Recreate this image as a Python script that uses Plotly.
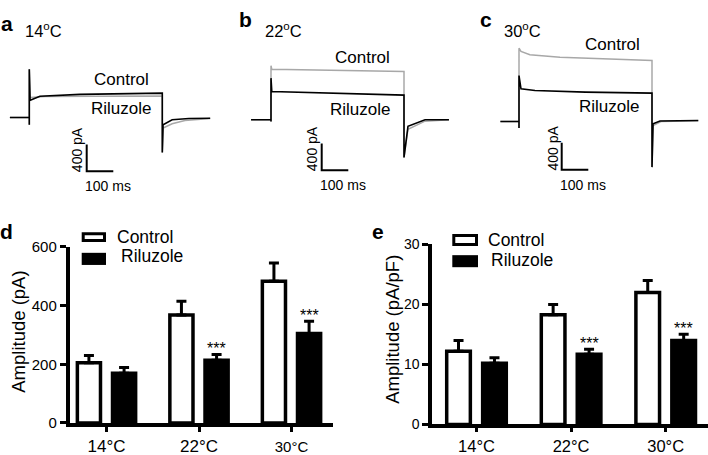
import plotly.graph_objects as go

W, H = 708, 455          # reference picture size (all pixel positions below refer to it)
FIG_H = 462              # rendered figure height (the page photo is squeezed to 455)
FONT = "Liberation Sans, Arial, Helvetica, sans-serif"

# ---------------- data ----------------
temps = ["14°C", "22°C", "30°C"]
panel_labels = ["a", "b", "c"]
panel_temps = ["14<sup>o</sup>C", "22<sup>o</sup>C", "30<sup>o</sup>C"]

# example current traces: time (ms from step onset), current (pA, baseline = 0)
a_ctrl_t = [-73, 0, 0, 0, 3, 60, 250, 500, 500, 503, 537, 585, 680]
a_ctrl_i = [0, 0, -106, 717, 300, 312, 318, 320, -519, -156, -92, -44, -15]
a_rilu_t = [-73, 0, 0, 0, 3, 40, 190, 500, 500, 503, 537, 600, 680]
a_rilu_i = [0, 0, -106, 717, 258, 316, 345, 364, -519, -106, -33, -15, -10]

b_ctrl_t = [-75, 0, 0, 0, 3, 250, 500, 500, 515, 579, 669]
b_ctrl_i = [0, 0, -25, 805, 751, 732, 717, -559, -140, -20, 0]
b_rilu_t = [-75, 0, 0, 0, 3, 250, 500, 500, 515, 579, 669]
b_rilu_i = [0, 0, -25, 620, 422, 390, 367, -559, -97, 0, 0]

c_ctrl_t = [-70, 0, 0, 0, 7.5, 41, 154, 300, 500, 500, 504, 534, 674]
c_ctrl_i = [0, 0, -97, 1091, 1043, 994, 956, 931, 906, -679, -60, 0, 10]
c_rilu_t = [-70, 0, 0, 0, 7.5, 60, 250, 500, 500, 504, 530, 674]
c_rilu_i = [0, 0, -97, 684, 485, 461, 437, 422, -679, -33, 7, 15]

scale_pA = 400
scale_ms = 100

# bar graphs: mean and SEM
d_ctrl = [205, 368, 483]
d_ctrl_sem = [25, 47, 62]
d_rilu = [169, 214, 305]
d_rilu_sem = [20, 19.5, 42]

e_ctrl = [12.2, 18.3, 22.0]
e_ctrl_sem = [1.8, 1.7, 2.0]
e_rilu = [10.2, 11.7, 14.0]
e_rilu_sem = [0.9, 0.85, 1.05]

sig = ["", "***", "***"]


def px(x):
    return x / W


def py(y):
    return 1 - y / H


PX_PER_MS = 0.266
PA_PER_PX = 14.55
GRAY = "#a8a8a8"

fig = go.Figure()
layout = dict(
    width=W, height=FIG_H, autosize=False,
    margin=dict(l=0, r=0, t=0, b=0),
    paper_bgcolor="white", plot_bgcolor="white",
    showlegend=False,
    font=dict(family=FONT, color="black"),
)
annotations = []
shapes = []

trace_panels = [
    dict(x0=0, x1=236, step=29.3, base=111.0, barx=86.7, barb=166.0,
         ctrl=(a_ctrl_t, a_ctrl_i), rilu=(a_rilu_t, a_rilu_i),
         ctrl_lab=(121.7, 71.7), rilu_lab=(121.0, 101.7),
         letter=(-1, 14.5), temp=(23, 21)),
    dict(x0=236, x1=472, step=271.0, base=113.3, barx=321.7, barb=165.0,
         ctrl=(b_ctrl_t, b_ctrl_i), rilu=(b_rilu_t, b_rilu_i),
         ctrl_lab=(362.0, 49.3), rilu_lab=(360.0, 102.7),
         letter=(237, 10.3), temp=(263, 21.5)),
    dict(x0=472, x1=708, step=519.0, base=115.0, barx=561.7, barb=164.3,
         ctrl=(c_ctrl_t, c_ctrl_i), rilu=(c_rilu_t, c_rilu_i),
         ctrl_lab=(612.0, 36.7), rilu_lab=(608.7, 99.3),
         letter=(478, 10.3), temp=(502, 21.5)),
]
TOP_H = 200
for k, p in enumerate(trace_panels):
    n = k + 1
    xa = "x" if n == 1 else f"x{n}"
    ya = "y" if n == 1 else f"y{n}"
    xkey = "xaxis" if n == 1 else f"xaxis{n}"
    ykey = "yaxis" if n == 1 else f"yaxis{n}"
    layout[xkey] = dict(domain=[px(p["x0"]), px(p["x1"])],
                        range=[(p["x0"] - p["step"]) / PX_PER_MS, (p["x1"] - p["step"]) / PX_PER_MS],
                        visible=False, anchor=ya)
    layout[ykey] = dict(domain=[py(TOP_H), 1],
                        range=[-(TOP_H - p["base"]) * PA_PER_PX, p["base"] * PA_PER_PX],
                        visible=False, anchor=xa)
    fig.add_trace(go.Scatter(x=p["ctrl"][0], y=p["ctrl"][1], mode="lines",
                             line=dict(color=GRAY, width=1.5), xaxis=xa, yaxis=ya,
                             hoverinfo="skip"))
    fig.add_trace(go.Scatter(x=p["rilu"][0], y=p["rilu"][1], mode="lines",
                             line=dict(color="black", width=1.6), xaxis=xa, yaxis=ya,
                             hoverinfo="skip"))
    t0 = (p["barx"] - p["step"]) / PX_PER_MS
    i0 = -(p["barb"] - p["base"]) * PA_PER_PX
    fig.add_trace(go.Scatter(x=[t0, t0, t0 + scale_ms], y=[i0 + scale_pA, i0, i0], mode="lines",
                             line=dict(color="black", width=2), xaxis=xa, yaxis=ya,
                             hoverinfo="skip"))
    annotations.append(dict(x=t0, y=i0 + scale_pA, xref=xa, yref=ya, text=f"{scale_pA} pA",
                            textangle=-90, showarrow=False, xanchor="center", yanchor="middle",
                            xshift=-9, yshift=-5, font=dict(size=14)))
    annotations.append(dict(x=t0, y=i0, xref=xa, yref=ya, text=f"{scale_ms} ms",
                            showarrow=False, xanchor="left", yanchor="top",
                            xshift=-4, yshift=-5, font=dict(size=14)))
    annotations.append(dict(x=px(p["ctrl_lab"][0]), y=py(p["ctrl_lab"][1]), xref="paper", yref="paper",
                            text="Control", showarrow=False, xanchor="center", yanchor="middle",
                            font=dict(size=17)))
    annotations.append(dict(x=px(p["rilu_lab"][0]), y=py(p["rilu_lab"][1]), xref="paper", yref="paper",
                            text="Riluzole", showarrow=False, xanchor="center", yanchor="middle",
                            font=dict(size=17)))
    annotations.append(dict(x=px(p["letter"][0]), y=py(p["letter"][1]), xref="paper", yref="paper",
                            text=f"<b>{panel_labels[k]}</b>", showarrow=False, xanchor="left",
                            yanchor="middle", font=dict(size=21)))
    annotations.append(dict(x=px(p["temp"][0]), y=py(p["temp"][1]), xref="paper", yref="paper",
                            text=panel_temps[k], showarrow=False, xanchor="left",
                            yanchor="middle", font=dict(size=16.5)))

BAR_W = 0.25
OFF_C = -0.315
OFF_R = 0.065
bar_panels = [
    dict(n=4, x0=69.5, x1=333.0, c0=106.5, sp=92.5, ytop=243.3, ybot=423.2,
         yr=[0, 600], ytv=[0, 200, 400, 600], ytfs=15, xtfs=17, xtl=5,
         ctrl=(d_ctrl, d_ctrl_sem), rilu=(d_rilu, d_rilu_sem),
         ticktext=["14°C", "22°C", "<span style='font-size:15px'>30°C</span>"],
         title="Amplitude (pA)", title_pos=(19, 330),
         leg=dict(c=(81.7, 106, 228.3, 238.3), r=(81.7, 106, 249.3, 261.7),
                  ct=(115, 233.3), rt=(119, 253)),
         letter="d", letter_pos=(-2, 228)),
    dict(n=5, x0=432.2, x1=708.0, c0=476.5, sp=94.6, ytop=240.7, ybot=424.8,
         yr=[0, 30], ytv=[0, 10, 20, 30], ytfs=14, xtfs=16.5, xtl=4,
         ctrl=(e_ctrl, e_ctrl_sem), rilu=(e_rilu, e_rilu_sem),
         ticktext=temps,
         title="Amplitude (pA/pF)", title_pos=(393, 328),
         leg=dict(c=(452.3, 478, 230, 242.3), r=(452.3, 478, 251.7, 264),
                  ct=(486, 236), rt=(489, 257)),
         letter="e", letter_pos=(370, 228)),
]
for bp in bar_panels:
    n = bp["n"]
    xa, ya = f"x{n}", f"y{n}"
    layout[f"xaxis{n}"] = dict(
        domain=[px(bp["x0"]), px(bp["x1"])],
        range=[(bp["x0"] - bp["c0"]) / bp["sp"], (bp["x1"] - bp["c0"]) / bp["sp"]],
        type="category", anchor=ya,
        showline=True, linecolor="black", linewidth=3.5,
        ticks="outside", ticklen=bp["xtl"], tickwidth=3, tickcolor="black",
        tickvals=temps, ticktext=bp["ticktext"],
        tickfont=dict(size=bp["xtfs"], color="black"),
        showgrid=False, zeroline=False, fixedrange=True,
    )
    layout[f"yaxis{n}"] = dict(
        domain=[py(bp["ybot"]), py(bp["ytop"])],
        range=bp["yr"], anchor=xa,
        showline=True, linecolor="black", linewidth=3.5,
        ticks="outside", ticklen=6, tickwidth=3, tickcolor="black",
        tickvals=bp["ytv"], tickfont=dict(size=bp["ytfs"], color="black"),
        showgrid=False, zeroline=False, fixedrange=True,
    )
    fig.add_trace(go.Bar(
        x=temps, y=bp["ctrl"][0], offset=OFF_C, width=BAR_W,
        marker=dict(color="white", line=dict(color="black", width=3.5)),
        error_y=dict(type="data", symmetric=False, array=bp["ctrl"][1], arrayminus=[0, 0, 0],
                     color="black", thickness=3, width=5),
        xaxis=xa, yaxis=ya, hoverinfo="skip"))
    fig.add_trace(go.Bar(
        x=temps, y=bp["rilu"][0], offset=OFF_R, width=BAR_W,
        marker=dict(color="black", line=dict(color="black", width=3.5)),
        error_y=dict(type="data", symmetric=False, array=bp["rilu"][1], arrayminus=[0, 0, 0],
                     color="black", thickness=3, width=5),
        xaxis=xa, yaxis=ya, hoverinfo="skip"))
    for j, s in enumerate(sig):
        if s:
            annotations.append(dict(
                x=j + OFF_R + BAR_W / 2, y=bp["rilu"][0][j] + bp["rilu"][1][j],
                xref=xa, yref=ya, text=s, showarrow=False,
                xanchor="center", yanchor="bottom", yshift=-5, font=dict(size=16)))
    annotations.append(dict(x=px(bp["title_pos"][0]), y=py(bp["title_pos"][1]), xref="paper",
                            yref="paper", text=bp["title"], textangle=-90, showarrow=False,
                            xanchor="center", yanchor="middle", font=dict(size=18.5)))
    cx0, cx1, cy0, cy1 = bp["leg"]["c"]
    shapes.append(dict(type="rect", xref="paper", yref="paper",
                       x0=px(cx0 + 1.5), x1=px(cx1 - 1.5), y0=py(cy1 - 1.5), y1=py(cy0 + 1.5),
                       line=dict(color="black", width=3), fillcolor="white"))
    rx0, rx1, ry0, ry1 = bp["leg"]["r"]
    shapes.append(dict(type="rect", xref="paper", yref="paper",
                       x0=px(rx0), x1=px(rx1), y0=py(ry1), y1=py(ry0),
                       line=dict(width=0), fillcolor="black"))
    annotations.append(dict(x=px(bp["leg"]["ct"][0]), y=py(bp["leg"]["ct"][1]), xref="paper",
                            yref="paper", text="Control", showarrow=False, xanchor="left",
                            yanchor="middle", font=dict(size=17.5)))
    annotations.append(dict(x=px(bp["leg"]["rt"][0]), y=py(bp["leg"]["rt"][1]), xref="paper",
                            yref="paper", text="Riluzole", showarrow=False, xanchor="left",
                            yanchor="middle", font=dict(size=17.5)))
    annotations.append(dict(x=px(bp["letter_pos"][0]), y=py(bp["letter_pos"][1]), xref="paper",
                            yref="paper", text=f"<b>{bp['letter']}</b>", showarrow=False,
                            xanchor="left", yanchor="middle", font=dict(size=21)))

layout["annotations"] = annotations
layout["shapes"] = shapes
layout["barmode"] = "overlay"
fig.update_layout(**layout)

PAGE_FIX = "document.body.style.margin='0px';document.body.style.padding='0px';"
fig.write_html("out.html", config={"displayModeBar": False}, post_script=PAGE_FIX)
